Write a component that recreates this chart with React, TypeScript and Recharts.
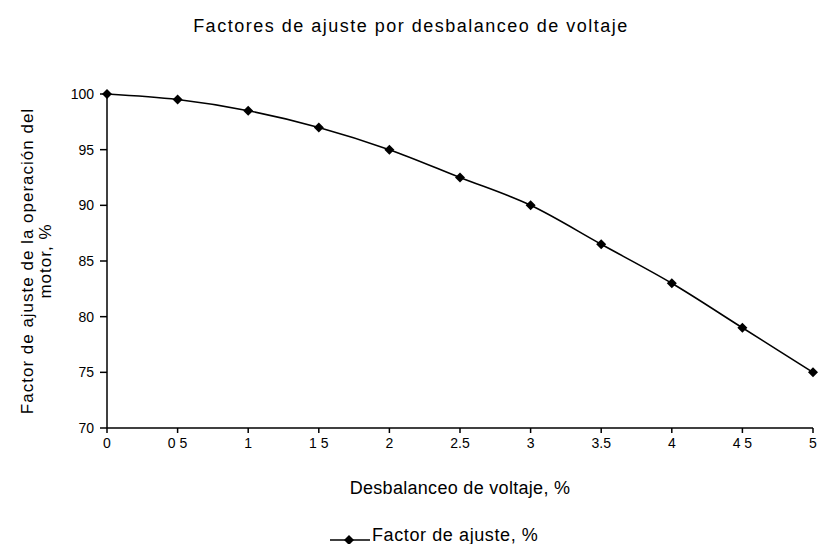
import React from "react";
import { LineChart, Line, XAxis, YAxis, Legend, Label } from "recharts";

// valores
const desbalanceo = ["0", "0 5", "1", "1 5", "2", "2.5", "3", "3.5", "4", "4 5", "5"];
const factorAjuste = [100, 99.5, 98.5, 97, 95, 92.5, 90, 86.5, 83, 79, 75];
const yTicks = [70, 75, 80, 85, 90, 95, 100];

const data = desbalanceo.map((d, i) => ({ x: d, factor: factorAjuste[i] }));

const FONT = "'Liberation Sans', Arial, sans-serif";

const Diamond = (props: any) => {
    const { cx, cy } = props;
    if (cx == null || cy == null) return null;
    return (
        <polygon
            points={`${cx},${cy - 5} ${cx + 5},${cy} ${cx},${cy + 5} ${cx - 5},${cy}`}
            fill="#000"
        />
    );
};

const LegendBox = () => (
    <div style={{ display: "flex", alignItems: "flex-start", fontFamily: FONT, fontSize: 18, letterSpacing: 0.6, color: "#000" }}>
        <svg width={42} height={20} style={{ display: "block" }}>
            <line x1={0} y1={15} x2={40} y2={15} stroke="#000" strokeWidth={1.5} />
            <polygon points="19,10 24,15 19,20 14,15" fill="#000" />
        </svg>
        <span style={{ lineHeight: "20px" }}>Factor de ajuste, %</span>
    </div>
);

const YLabel = () => (
    <text
        transform="rotate(-90, 36, 261)"
        x={36}
        y={261}
        textAnchor="middle"
        fontFamily={FONT}
        fontSize={17}
        letterSpacing={1}
        fill="#000"
    >
        <tspan x={36} dy={-3}>Factor de ajuste de la operación del</tspan>
        <tspan x={36} dy={18}>motor, %</tspan>
    </text>
);

export default function App() {
    return (
        <div style={{ position: "absolute", left: 0, top: 0, width: 819, height: 544, background: "#fff" }}>
            <div
                style={{
                    position: "absolute",
                    top: 16,
                    left: 0,
                    width: 822,
                    textAlign: "center",
                    fontFamily: FONT,
                    fontSize: 18,
                    letterSpacing: 1.5,
                    color: "#000",
                }}
            >
                Factores de ajuste por desbalanceo de voltaje
            </div>
            <LineChart width={819} height={544} data={data} margin={{ top: 94, right: 6, bottom: 46, left: 0 }}>
                <XAxis
                    dataKey="x"
                    height={70}
                    stroke="#000"
                    strokeWidth={1.5}
                    tickSize={5}
                    tickMargin={5}
                    interval={0}
                    tick={{ fill: "#000", fontSize: 14, fontFamily: FONT }}
                >
                    <Label
                        value="Desbalanceo de voltaje, %"
                        position="insideBottom"
                        offset={4}
                        fill="#000"
                        fontSize={18}
                        fontFamily={FONT}
                        letterSpacing={0.3}
                    />
                </XAxis>
                <YAxis
                    width={107}
                    domain={[70, 100]}
                    ticks={yTicks}
                    stroke="#000"
                    strokeWidth={1.5}
                    tickSize={7}
                    tickMargin={6}
                    tick={{ fill: "#000", fontSize: 14, fontFamily: FONT }}
                >
                    <Label content={<YLabel />} />
                </YAxis>
                <Legend
                    verticalAlign="middle"
                    width={230}
                    wrapperStyle={{ top: 525, left: 330 }}
                    content={<LegendBox />}
                />
                <Line
                    type="monotone"
                    dataKey="factor"
                    name="Factor de ajuste, %"
                    stroke="#000"
                    strokeWidth={1.6}
                    dot={<Diamond />}
                    activeDot={false}
                    isAnimationActive={false}
                />
            </LineChart>
        </div>
    );
}
